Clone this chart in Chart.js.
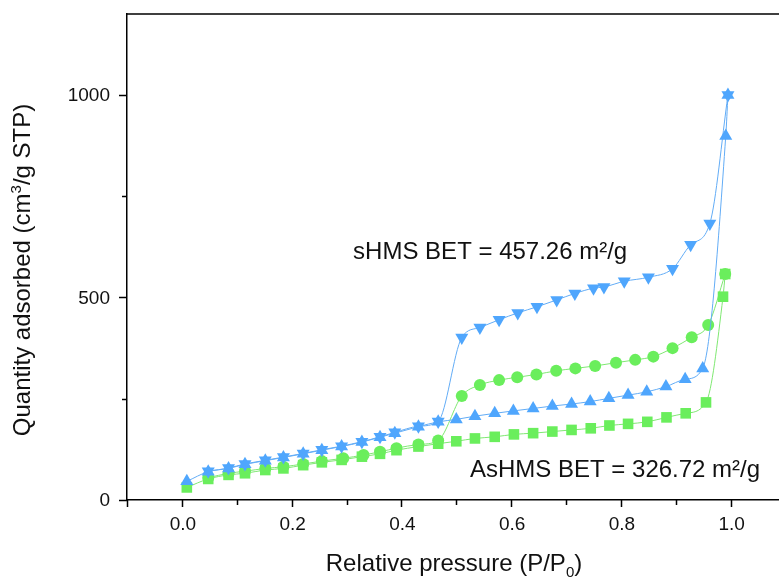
<!DOCTYPE html>
<html>
<head>
<meta charset="utf-8">
<script src="https://cdn.jsdelivr.net/npm/chart.js@4"></script>
<style>
  html, body { margin:0; padding:0; background:#fff; }
  #wrap { width:779px; height:577px; }
</style>
</head>
<body>
<div id="wrap"><canvas id="c" width="779" height="577"></canvas></div>
<script>
/* ── DATA ── */
// sHMS adsorption (up triangles)
const sAdsX = [0.009,0.048,0.085,0.115,0.152,0.185,0.221,0.255,0.291,0.328,0.361,0.388,0.431,0.467,0.50,0.534,0.57,0.604,0.64,0.675,0.71,0.744,0.778,0.813,0.847,0.882,0.917,0.949,0.991,0.995];
const sAdsY = [46,70,78,88,97,105,114,123,132,143,155,165,181,193,199,207,214,220,226,232,237,243,251,259,267,280,298,325,899,1000];
// sHMS desorption (down triangles)
const sDesX = [0.048,0.085,0.115,0.152,0.185,0.221,0.255,0.291,0.328,0.361,0.388,0.431,0.467,0.51,0.543,0.578,0.612,0.647,0.683,0.716,0.75,0.769,0.806,0.85,0.894,0.927,0.962,0.995];
const sDesY = [71,79,89,98,106,115,124,133,144,156,167,182,194,401,426,445,462,477,494,510,523,526,540,550,571,630,683,1000];
// AsHMS adsorption (squares)
const aAdsX = [0.009,0.048,0.085,0.115,0.152,0.185,0.221,0.255,0.291,0.328,0.361,0.391,0.431,0.467,0.50,0.534,0.57,0.605,0.64,0.675,0.71,0.745,0.779,0.813,0.848,0.883,0.918,0.955,0.986,0.99];
const aAdsY = [31,52,62,66,74,78,86,93,99,107,114,123,132,139,145,152,156,162,165,169,173,177,184,188,193,204,214,241,502,558];
// AsHMS desorption (circles)
const aDesX = [0.048,0.085,0.115,0.152,0.185,0.221,0.255,0.294,0.331,0.361,0.391,0.431,0.467,0.51,0.543,0.578,0.611,0.646,0.682,0.717,0.753,0.791,0.826,0.859,0.894,0.929,0.959,0.99];
const aDesY = [55,66,71,78,82,89,96,103,111,119,128,137,147,257,284,296,303,310,319,325,331,339,346,354,375,402,432,558];

const xTickValues = [-0.1,0,0.1,0.2,0.3,0.4,0.5,0.6,0.7,0.8,0.9,1.0];
const xTickLabels = ["","0.0","","0.2","","0.4","","0.6","","0.8","","1.0"];
const yTickValues = [0,250,500,750,1000];
const yTickLabels = ["0","","500","","1000"];

const notes = [
  { text:"sHMS BET = 457.26 m\u00b2/g",  x:0.312, y:595 },
  { text:"AsHMS BET = 326.72 m\u00b2/g", x:0.525, y:57 },
];

/* ── STYLE ── */
const BLUE = "#4fa6fd", BLUE_LINE = "#62acf6";
const GREEN = "#6aee5c", GREEN_LINE = "#7fe872";
const FONT = "'Liberation Sans', Arial, sans-serif";

const pts = (xs, ys) => xs.map((x, i) => ({ x, y: ys[i] }));

function series(label, xs, ys, color, lineColor, style, radius, rot) {
  return {
    label, data: pts(xs, ys),
    showLine: true, borderColor: lineColor, borderWidth: 1,
    cubicInterpolationMode: "monotone",
    pointStyle: style, pointRadius: radius, pointHoverRadius: radius,
    pointRotation: rot || 0,
    pointBackgroundColor: color, pointBorderColor: color, pointBorderWidth: 0,
  };
}

/* ── EXTRAS: ticks, labels, frame, titles, notes ── */
const extras = {
  id: "extras",
  afterDraw(chart) {
    const { ctx, chartArea: a, scales: { x, y } } = chart;
    ctx.save();
    ctx.strokeStyle = "#000"; ctx.lineWidth = 1.5;
    ctx.beginPath();
    ctx.moveTo(a.left, a.top); ctx.lineTo(a.right, a.top);
    xTickValues.forEach((v, i) => {
      const px = Math.round(x.getPixelForValue(v)) + 0.5;
      const len = xTickLabels[i] !== "" || v < 0 ? 7 : 5;
      ctx.moveTo(px, a.bottom); ctx.lineTo(px, a.bottom + len);
    });
    yTickValues.forEach((v, i) => {
      const py = Math.round(y.getPixelForValue(v)) + 0.5;
      const len = yTickLabels[i] !== "" ? 8 : 5;
      ctx.moveTo(a.left, py); ctx.lineTo(a.left - len, py);
    });
    ctx.stroke();

    ctx.fillStyle = "#111";
    // tick labels
    ctx.font = "19px " + FONT;
    ctx.textAlign = "center"; ctx.textBaseline = "alphabetic";
    xTickValues.forEach((v, i) => { if (xTickLabels[i]) ctx.fillText(xTickLabels[i], x.getPixelForValue(v) + 1, 530); });
    ctx.textAlign = "right"; ctx.textBaseline = "middle";
    yTickValues.forEach((v, i) => { if (yTickLabels[i]) ctx.fillText(yTickLabels[i], 110, y.getPixelForValue(v) + 1); });

    // notes
    ctx.textBaseline = "alphabetic";
    ctx.font = "24px " + FONT;
    ctx.textAlign = "left";
    notes.forEach(n => ctx.fillText(n.text, x.getPixelForValue(n.x), y.getPixelForValue(n.y)));

    // x title with subscript
    const big = "24px " + FONT, small = "15px " + FONT;
    ctx.font = big;
    const p1 = "Relative pressure (P/P", p3 = ")";
    const w1 = ctx.measureText(p1).width, w3 = ctx.measureText(p3).width;
    ctx.font = small; const w2 = ctx.measureText("0").width;
    let sx = 454 - (w1 + w2 + w3) / 2, by = 571;
    ctx.font = big; ctx.fillText(p1, sx, by);
    ctx.font = small; ctx.fillText("0", sx + w1, by + 6);
    ctx.font = big; ctx.fillText(p3, sx + w1 + w2, by);

    // y title
    ctx.translate(30, 270); ctx.rotate(-Math.PI / 2);
    const q1 = "Quantity adsorbed (cm", q3 = "/g STP)";
    ctx.font = big;
    const v1 = ctx.measureText(q1).width, v3 = ctx.measureText(q3).width;
    ctx.font = small; const v2 = ctx.measureText("3").width;
    sx = -(v1 + v2 + v3) / 2;
    ctx.font = big; ctx.fillText(q1, sx, 0);
    ctx.font = small; ctx.fillText("3", sx + v1, -9);
    ctx.font = big; ctx.fillText(q3, sx + v1 + v2, 0);
    ctx.restore();
  }
};

new Chart(document.getElementById("c"), {
  type: "scatter",
  data: {
    datasets: [
      series("sHMS ads", sAdsX, sAdsY, BLUE, BLUE_LINE, "triangle", 7.5),
      series("sHMS des", sDesX, sDesY, BLUE, BLUE_LINE, "triangle", 7.5, 180),
      series("AsHMS ads", aAdsX, aAdsY, GREEN, GREEN_LINE, "rect", 7.5),
      series("AsHMS des", aDesX, aDesY, GREEN, GREEN_LINE, "circle", 6),
    ]
  },
  options: {
    responsive: false, animation: false,
    layout: { autoPadding: false, padding: { top: 14, right: 0, left: 0, bottom: 0 } },
    plugins: { legend: { display: false }, tooltip: { enabled: false } },
    scales: {
      x: {
        type: "linear", min: -0.1, max: 1.088,
        afterBuildTicks: s => { s.ticks = xTickValues.map(v => ({ value: v })); },
        afterFit: s => { s.height = 77; },
        grid: { display: false, drawTicks: false },
        border: { color: "#000", width: 1.5 },
        ticks: { display: false },
      },
      y: {
        type: "linear", min: 0, max: 1200,
        afterBuildTicks: s => { s.ticks = yTickValues.map(v => ({ value: v })); },
        afterFit: s => { s.width = 127; },
        grid: { display: false, drawTicks: false },
        border: { color: "#000", width: 1.5 },
        ticks: { display: false },
      },
    },
  },
  plugins: [extras],
});
</script>
</body>
</html>
